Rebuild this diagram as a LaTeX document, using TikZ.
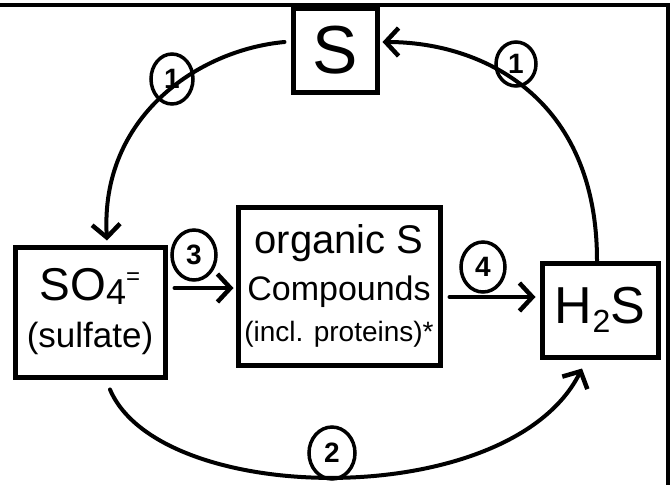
\documentclass[tikz,border=0pt]{standalone}
\usepackage{fontspec}
\setmainfont{Liberation Sans}
\usetikzlibrary{arrows.meta,shapes.geometric}
\begin{document}
\begin{tikzpicture}[x=1pt,y=-1pt,
  box/.style={draw,line width=5pt,rectangle,inner sep=0pt,align=center},
  flow/.style={line width=4pt,line cap=round,
    -{Straight Barb[length=13pt,width=28pt,line width=4.5pt]}},
  tag/.style={draw,ellipse,line width=3.5pt,inner sep=0pt,
    font=\fontsize{28}{28}\selectfont\bfseries}]
\useasboundingbox (0,0) rectangle (672,485);

% outer frame edges
\draw[line width=4pt] (0,5) -- (668,5) -- (668,485);

% compartments of the sulfur cycle
\node[box,minimum width=84pt,minimum height=84pt,
  font=\fontsize{68}{68}\selectfont] (S) at (335,50) {S};
\node[box,minimum width=150pt,minimum height=130pt,
  font=\fontsize{35}{47}\selectfont] (SO4) at (90,312)
  {{\fontsize{46}{47}\selectfont SO\raisebox{-4pt}{\fontsize{36}{36}\selectfont 4}\raisebox{16pt}{\fontsize{24}{24}\selectfont =}}\\(sulfate)};
\node[box,minimum width=202pt,minimum height=158pt,
  font=\fontsize{34}{47}\selectfont] (org) at (339,286)
  {{\fontsize{40}{47}\selectfont organic S}\\Compounds\\[-6pt]{\fontsize{28}{47}\selectfont (incl. proteins)*}};
\node[box,minimum width=116pt,minimum height=94pt,
  font=\fontsize{52}{52}\selectfont] (H2S) at (600,310)
  {H\raisebox{-9pt}{\fontsize{32}{32}\selectfont 2}S};

% transformations
\draw[flow] ([shift={(-6,-8)}]S.west)
  .. controls +(-87,8) and +(-7,-123) .. ([shift={(17,-4)}]SO4.north);
\draw[flow] ([xshift=-3pt]H2S.north)
  .. controls +(0,-163) and +(100,0) .. ([shift={(3,-8)}]S.east);
\draw[flow] ([shift={(20,10)}]SO4.south)
  .. controls +(50,118) and +(-72,144) .. ([shift={(-18,9)}]H2S.south);
\draw[flow] ([shift={(7,-24)}]SO4.east) -- ([shift={(-2,2)}]org.west);
\draw[flow] ([shift={(7,11)}]org.east) -- ([shift={(-4,-13)}]H2S.west);

% step numbers
\node[tag,minimum width=42pt,minimum height=50pt] (t1a) at (172,79) {1};
\node[tag,minimum width=40pt,minimum height=44pt] (t1b) at (516,64) {1};
\node[tag,minimum width=46pt,minimum height=52pt] (t2) at (332,453) {2};
\node[tag,minimum width=44pt,minimum height=50pt] (t3) at (194,255) {3};
\node[tag,minimum width=44pt,minimum height=50pt] (t4) at (483,267) {4};
\end{tikzpicture}
\end{document}
